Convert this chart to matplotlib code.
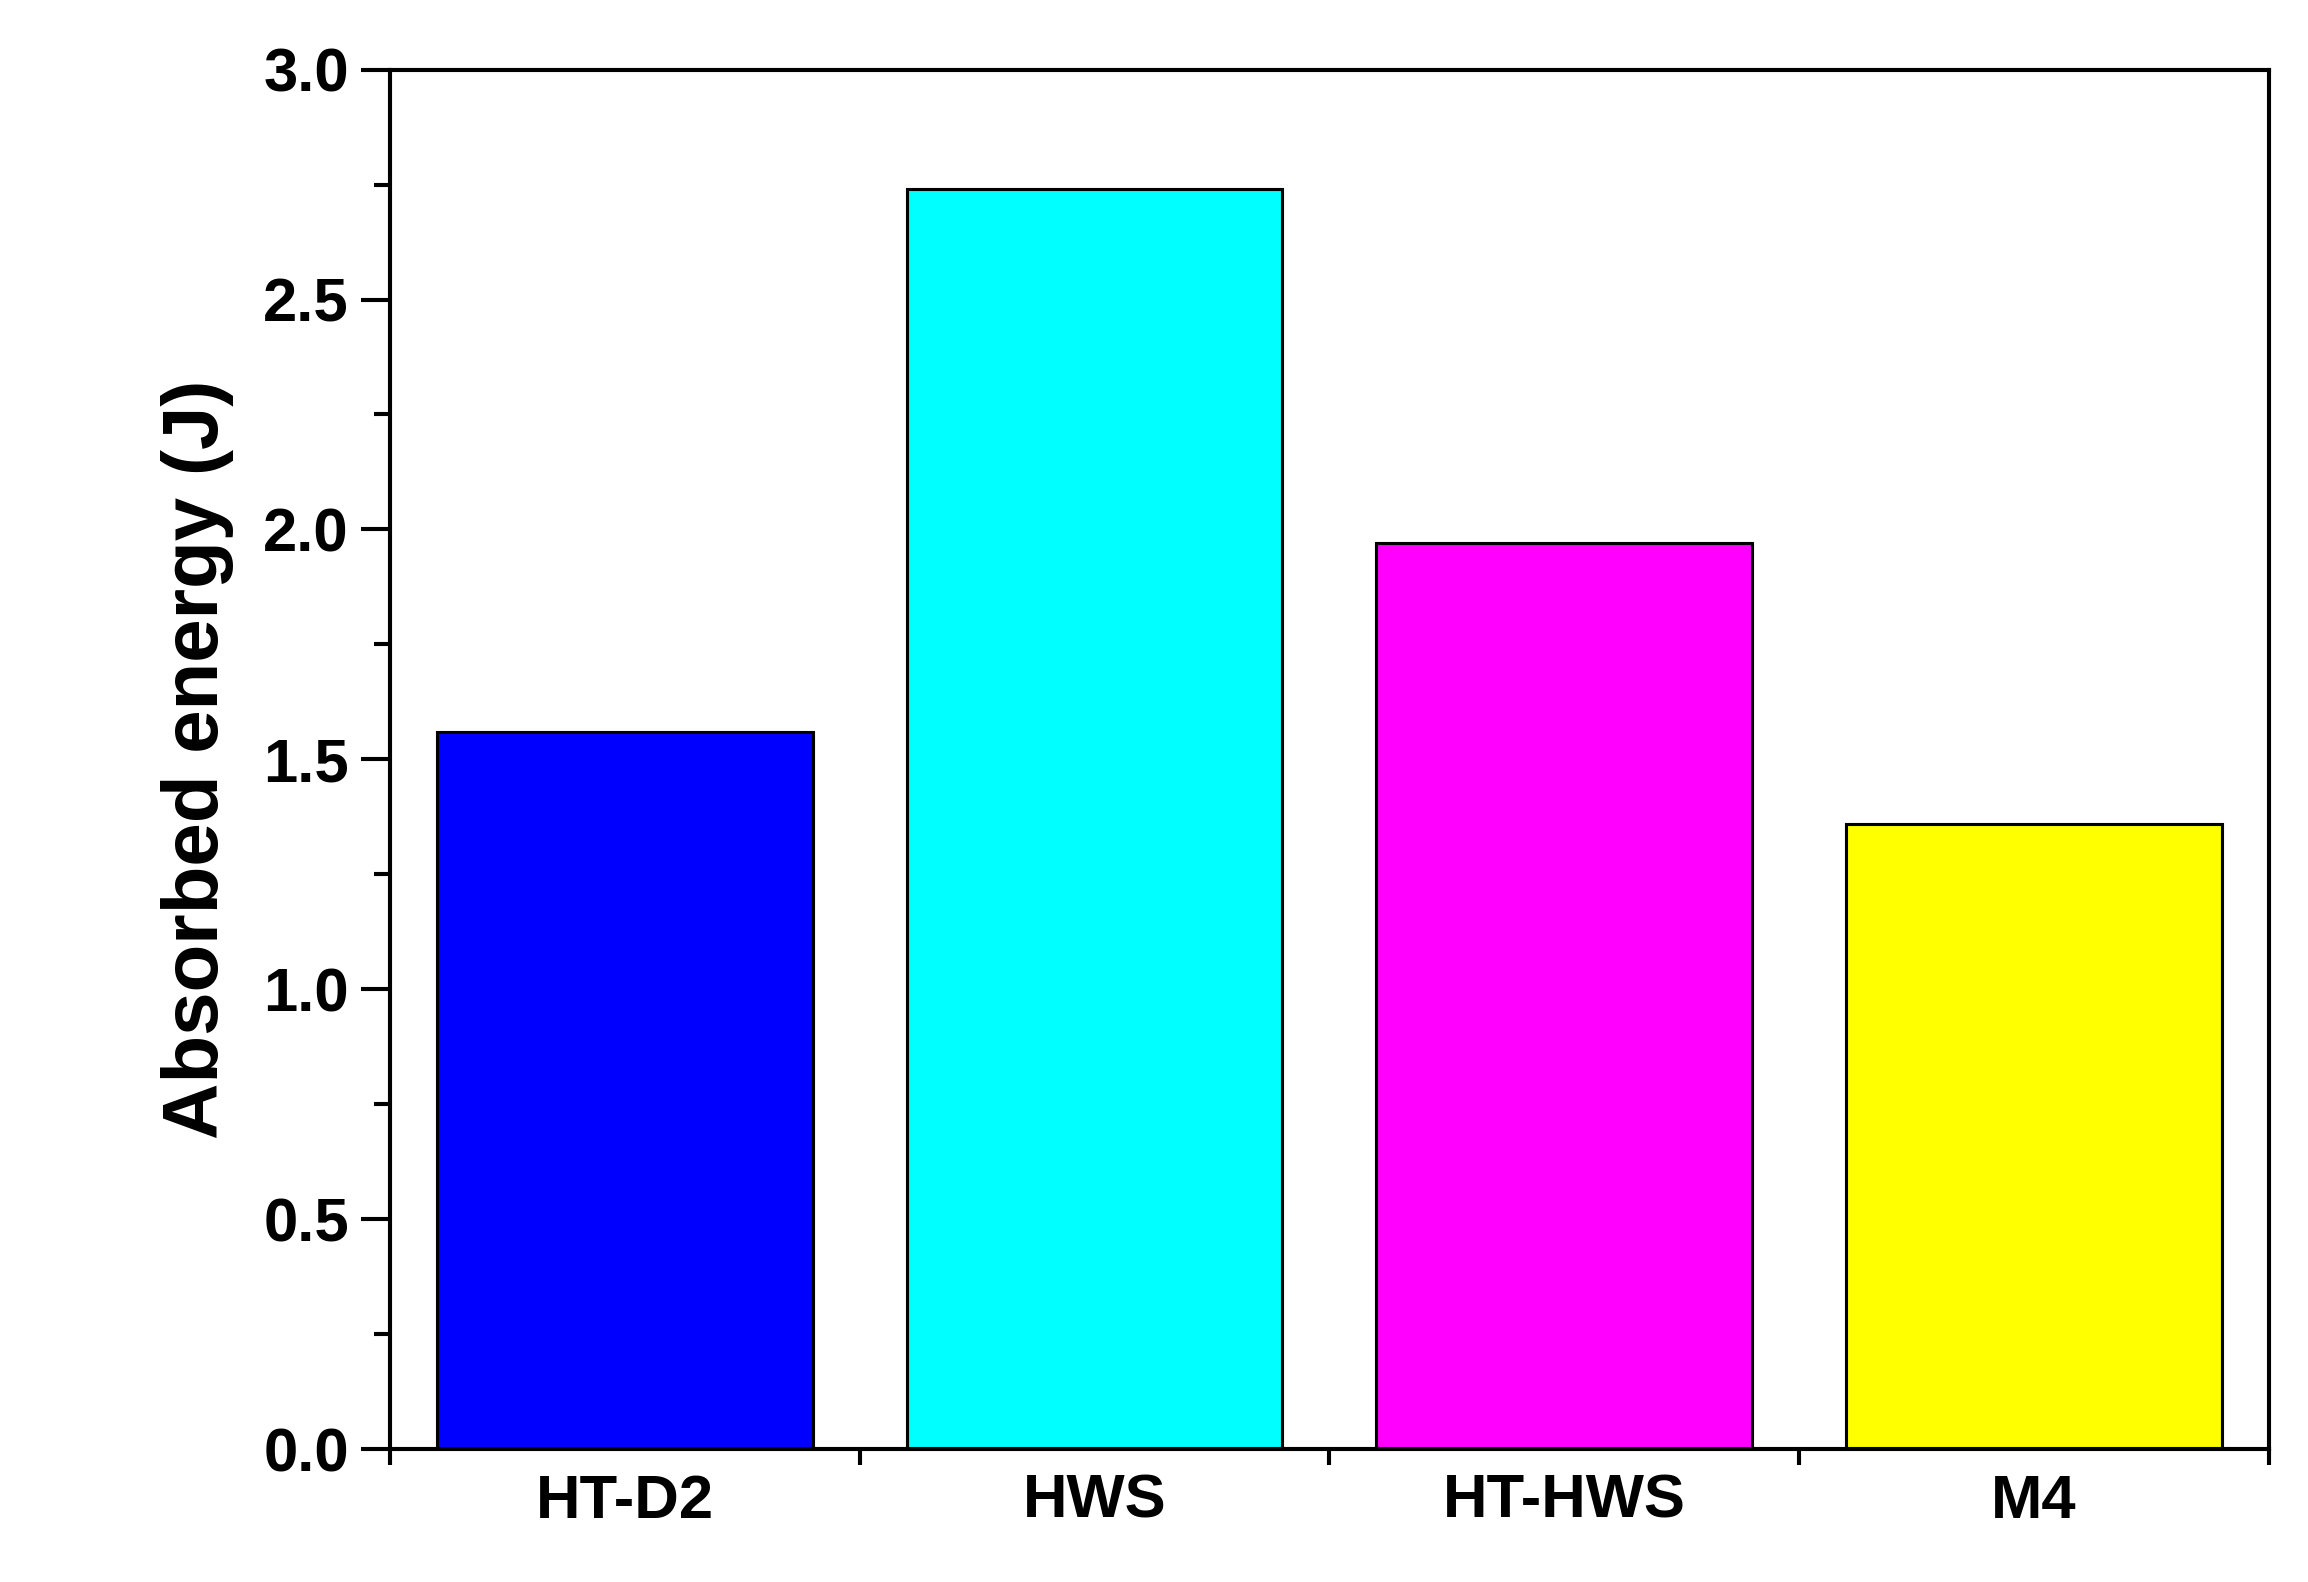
import matplotlib
matplotlib.use("Agg")
import matplotlib.pyplot as plt
import numpy as np

categories = ["HT-D2", "HWS", "HT-HWS", "M4"]
values = [1.56, 2.74, 1.97, 1.36]
colors = ["#0000FF", "#00FFFF", "#FF00FF", "#FFFF00"]

plt.rcParams["font.family"] = ["Liberation Sans", "DejaVu Sans"]
plt.rcParams["font.weight"] = "bold"

fig = plt.figure(figsize=(2308 / 148, 1582 / 148), dpi=148)
ax = fig.add_axes([0.169, 0.084, 0.814, 0.872])

pos = np.arange(len(categories)) + 0.5
ax.bar(pos, values, width=0.8, color=colors, edgecolor="black", linewidth=1.5)

ax.set_xlim(0, 4)
ax.set_ylim(0, 3.0)
ax.set_xticks(np.arange(0, 5))
ax.set_xticklabels([])
ax.set_xticks(pos, minor=True)
ax.set_xticklabels(categories, minor=True, fontsize=30, fontweight="bold")
ax.tick_params(axis="x", which="minor", length=0, pad=12)
ax.tick_params(axis="x", which="major", direction="out", length=8, width=2)

ax.set_yticks(np.arange(0, 3.01, 0.5))
ax.set_yticklabels([f"{v:.1f}" for v in np.arange(0, 3.01, 0.5)], fontsize=30, fontweight="bold")
ax.set_yticks(np.arange(0.25, 3.0, 0.5), minor=True)
ax.tick_params(axis="y", which="major", direction="out", length=14, width=2, pad=6)
ax.tick_params(axis="y", which="minor", direction="out", length=8, width=2)

for s in ax.spines.values():
    s.set_linewidth(2)

ax.set_ylabel("Absorbed energy (J)", fontsize=38, fontweight="bold", labelpad=14)

fig.savefig("out.png", dpi=148)
